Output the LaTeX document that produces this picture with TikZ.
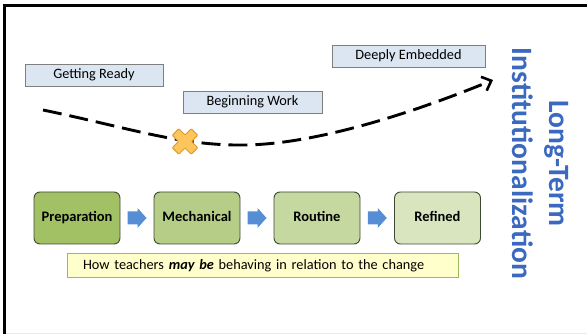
\documentclass[tikz,border=0pt]{standalone}
\usepackage{fontspec}
\setmainfont{Carlito}
\usetikzlibrary{arrows.meta,calc}

\definecolor{labelfill}{HTML}{DCE6F2}
\definecolor{labeldraw}{HTML}{7F7F7F}
\definecolor{stageA}{HTML}{A2C064}
\definecolor{stageB}{HTML}{B5CD86}
\definecolor{stageC}{HTML}{C5D8A0}
\definecolor{stageD}{HTML}{D8E5BF}
\definecolor{stagedraw}{HTML}{3F4A35}
\definecolor{flowblue}{HTML}{558ED5}
\definecolor{notefill}{HTML}{FFFFCC}
\definecolor{notedraw}{HTML}{9BBB59}
\definecolor{crossfill}{HTML}{FDC65C}
\definecolor{crossdraw}{HTML}{E0982A}
\definecolor{titleblue}{HTML}{3A69BF}

\tikzset{
  phaselabel/.style={draw=labeldraw, fill=labelfill, line width=0.8pt,
    minimum height=22pt, inner sep=0pt, text height=10pt, text depth=3pt,
    font=\fontsize{14.3}{17}\selectfont},
  stagebox/.style={draw=stagedraw, line width=0.9pt, rounded corners=6pt,
    minimum width=86pt, minimum height=52pt, inner sep=0pt,
    text height=10pt, text depth=3pt,
    font=\fontsize{14.5}{17}\selectfont\bfseries},
  flowarrow/.style={fill=flowblue, draw=none},
  pathline/.style={line width=2.9pt, dash pattern=on 19pt off 8pt,
    -{Straight Barb[length=8pt,width=15pt,line width=2.6pt]}},
}

\begin{document}
\begin{tikzpicture}[x=1pt,y=-1pt]
\useasboundingbox (0,0) rectangle (587,334);

% frame
\draw[line width=3.2pt] (4.3,334) -- (4.3,5.5) -- (587,5.5);
\draw[black!8, line width=0.8pt] (6,333.4) -- (587,333.4);

% phase labels above the path
\node[phaselabel, minimum width=138pt] (ready) at (94,75) {Getting Ready};
\node[phaselabel, minimum width=139pt] (begin) at (252.5,102.5) {Beginning Work};
\node[phaselabel, minimum width=153pt] (deep) at (408.5,56) {Deeply Embedded};

% the dashed path of implementation
\coordinate (pstart) at (43,110);
\coordinate (plow) at (245,145);
\coordinate (pend) at (493,80);
\draw[pathline] (pstart) .. controls (130,128) and (180,146) .. (plow)
  .. controls (320,144) and (420,110) .. (pend);

% cross on the dip
\coordinate (cross) at (185,141.5);
\draw[fill=crossfill, draw=crossdraw, line width=1pt, rounded corners=0.8pt,
      shift={(cross)}, rotate=45]
  (-4.6,-13.4) -- (4.6,-13.4) -- (4.6,-4.6) -- (13.4,-4.6) -- (13.4,4.6)
  -- (4.6,4.6) -- (4.6,13.4) -- (-4.6,13.4) -- (-4.6,4.6) -- (-13.4,4.6)
  -- (-13.4,-4.6) -- (-4.6,-4.6) -- cycle;

% stages
\node[stagebox, fill=stageA] (prep) at (77,218) {Preparation};
\node[stagebox, fill=stageB] (mech) at (197,218) {Mechanical};
\node[stagebox, fill=stageC] (rout) at (317,218) {Routine};
\node[stagebox, fill=stageD] (refi) at (437.5,218) {Refined};

% block arrows between the stages
\foreach \p/\q in {prep/mech, mech/rout, rout/refi}{
  \path[flowarrow] ($(\p.east)!0.5!(\q.west)$) ++(-9.5,-6.5) -- ++(10,0)
    -- ++(0,-3.5) -- ++(9,10) -- ++(-9,10) -- ++(0,-3.5) -- ++(-10,0) -- cycle;
}

% note under the stages
\node[draw=notedraw, fill=notefill, line width=1pt, minimum height=23pt,
      text width=359pt, inner xsep=16pt, inner ysep=0pt, align=left,
      font=\fontsize{14.3}{17}\selectfont] (note) at (262.5,265.5)
  {How teachers \textbf{\textit{may be}} behaving in relation to the change};

% vertical title
\node[rotate=-90, align=center, inner sep=0pt, text=titleblue,
      font=\fontsize{29.5}{37}\selectfont\bfseries] (title) at (540.5,163.5)
  {Long-Term\\Institutionalization};
\end{tikzpicture}
\end{document}
